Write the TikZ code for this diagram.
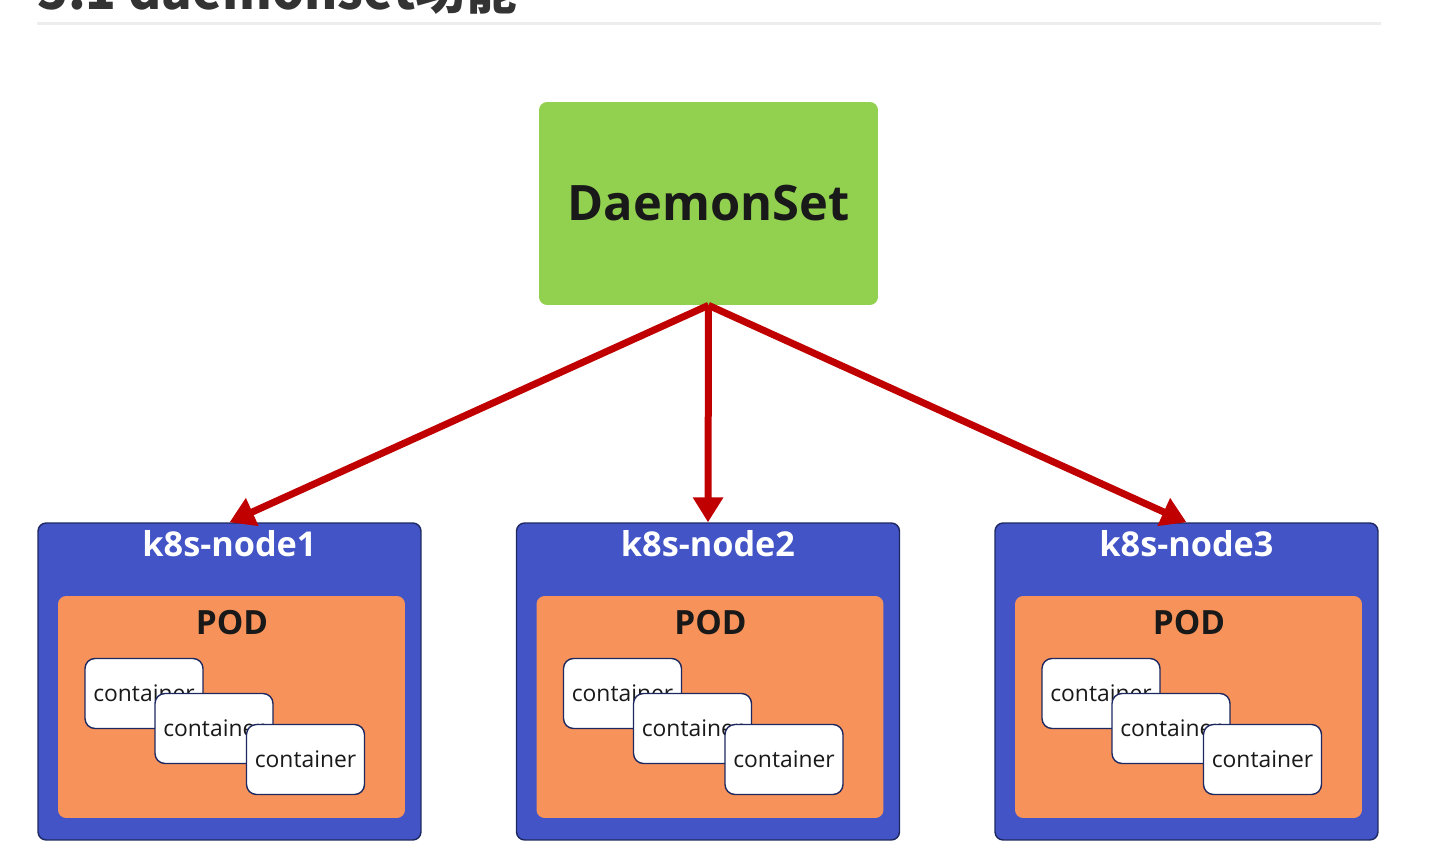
\documentclass[tikz,border=0pt]{standalone}
\usepackage{fontspec}
\setmainfont{Open Sans}
\newfontfamily\cjk{Noto Sans CJK SC}
\usepackage{xcolor}
\usepackage{tikz}
\usetikzlibrary{positioning,arrows.meta}

\definecolor{dsgreen}{HTML}{92D050}
\definecolor{hostblue}{HTML}{4254C6}
\definecolor{podorange}{HTML}{F7935A}
\definecolor{navy}{HTML}{1E2860}
\definecolor{arrowred}{HTML}{C00000}
\definecolor{headgray}{HTML}{333333}

\begin{document}
\begin{tikzpicture}[x=0.02cm,y=-0.02cm,>={Triangle[width=0.58cm,length=0.5cm]},
  dsbox/.style={fill=dsgreen,rounded corners=0.16cm,minimum width=6.78cm,minimum height=4.06cm,
    font=\bfseries\fontsize{27.8pt}{32pt}\selectfont,text=black!90},
  hostbox/.style={draw=navy,line width=0.8pt,fill=hostblue,rounded corners=0.16cm,
    minimum width=7.66cm,minimum height=6.34cm},
  hosttitle/.style={anchor=base,inner sep=0pt,text=white,font=\bfseries\fontsize{19.5pt}{22pt}\selectfont},
  podbox/.style={fill=podorange,rounded corners=0.16cm,minimum width=6.94cm,minimum height=4.44cm},
  podtitle/.style={anchor=base,inner sep=0pt,text=black!90,font=\bfseries\fontsize{19pt}{22pt}\selectfont},
  ctbox/.style={draw=navy,line width=0.8pt,fill=white,rounded corners=0.2cm,inner sep=0pt,
    minimum width=2.36cm,minimum height=1.4cm,text=black!90,font=\fontsize{13pt}{15pt}\selectfont},
  feed/.style={->,draw=arrowred,line width=0.14cm}]
\clip (0,0) rectangle (1441,864);

% heading, cut by the top edge
\node[anchor=base west,inner sep=0pt,text=headgray,font=\cjk\bfseries\fontsize{28.8pt}{34pt}\selectfont]
  (head) at (37,10) {5.1 daemonset功能};
\coordinate (ruleL) at (37,23.5);
\coordinate (ruleR) at (1381,23.5);
\draw[black!7,line width=2pt] (ruleL) -- (ruleR);

\node[dsbox] (ds) at (708.5,203.5) {DaemonSet};

% k8s-node1
\node[hostbox] (n1) at (229.5,681.5) {};
\node[hosttitle] (n1t) at (229.5,557) {k8s-node1};
\node[podbox] (p1) at (231.5,707) {};
\node[podtitle] (p1t) at (232,635) {POD};
\node[ctbox] (c1a) at (144,693.5) {container};
\node[ctbox] (c1b) at (214,728.5) {container};
\node[ctbox] (c1c) at (305.5,759.5) {container};

% k8s-node2
\node[hostbox] (n2) at (708,681.5) {};
\node[hosttitle] (n2t) at (708,557) {k8s-node2};
\node[podbox] (p2) at (710,707) {};
\node[podtitle] (p2t) at (710.5,635) {POD};
\node[ctbox] (c2a) at (622.5,693.5) {container};
\node[ctbox] (c2b) at (692.5,728.5) {container};
\node[ctbox] (c2c) at (784,759.5) {container};

% k8s-node3
\node[hostbox] (n3) at (1186.5,681.5) {};
\node[hosttitle] (n3t) at (1186.5,557) {k8s-node3};
\node[podbox] (p3) at (1188.5,707) {};
\node[podtitle] (p3t) at (1189,635) {POD};
\node[ctbox] (c3a) at (1101,693.5) {container};
\node[ctbox] (c3b) at (1171,728.5) {container};
\node[ctbox] (c3c) at (1262.5,759.5) {container};

\draw[feed] (ds.south) -- (n1.north);
\draw[feed] (ds.south) -- (n2.north);
\draw[feed] (ds.south) -- (n3.north);
\end{tikzpicture}
\end{document}
